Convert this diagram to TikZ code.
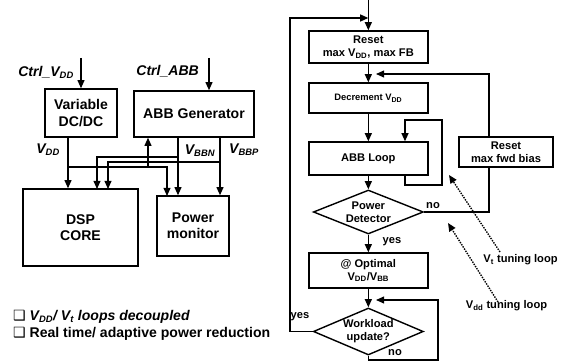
\documentclass[tikz,border=0pt]{standalone}
\usepackage{fontspec}
\setmainfont{Liberation Sans}
\newfontfamily\symfont{DejaVu Sans}
\usetikzlibrary{arrows.meta,shapes.geometric}

\tikzset{
  blk/.style={draw,line width=1.3pt,align=center,inner sep=0pt,font=\fontsize{12}{14}\selectfont\bfseries},
  flowbox/.style={draw,line width=1.2pt,align=center,inner sep=0pt,minimum width=3.57cm,font=\fontsize{9.5}{11}\selectfont\bfseries},
  dia/.style={diamond,draw,line width=1.2pt,align=center,aspect=2.5,inner sep=0pt,minimum width=3.3cm,font=\fontsize{9.5}{11}\selectfont\bfseries},
  wire/.style={line width=1.1pt},
  arr/.style={wire,-{Triangle[length=7pt,width=6pt]}},
  dotarr/.style={line width=1.2pt,densely dotted,-{Triangle[length=7pt,width=6pt]}},
  lbl/.style={font=\fontsize{9.5}{11}\selectfont\bfseries},
  sigtxt/.style={font=\fontsize{12}{14}\selectfont\bfseries\itshape},
}

\begin{document}
\begin{tikzpicture}
  \useasboundingbox (0,0) rectangle (16.83,10.83);

  % Supply and bias generators
  \node[blk,minimum width=2.16cm,minimum height=1.44cm] (dcdc) at (2.43,7.44) {Variable\\DC/DC};
  \node[blk,minimum width=3.6cm,minimum height=1.38cm] (abbgen) at (5.82,7.41) {ABB Generator};
  \node[blk,minimum width=3.45cm,minimum height=2.31cm] (dsp) at (2.415,4.005) {DSP\\CORE};
  \node[blk,minimum width=2.16cm,minimum height=1.8cm] (pm) at (5.79,4.05) {Power\\monitor};

  % Control inputs
  \coordinate (vddin) at (2.43,9.09);
  \coordinate (abbin) at (6.27,9.09);
  \node[sigtxt,anchor=east] (ctrlvdd) at (2.34,8.67) {Ctrl\_V\textsubscript{DD}};
  \node[sigtxt,anchor=east] (ctrlabb) at (6.09,8.70) {Ctrl\_ABB};
  \draw[arr] (vddin) -- (dcdc.north);
  \draw[arr] (abbin) -- (abbin |- abbgen.north);

  % Rails
  \coordinate (vddtap) at (2.04,5.82);
  \coordinate (abbfb) at (4.44,5.82);
  \coordinate (pmvdd) at (5.01,4.95);
  \coordinate (vbbntap) at (5.34,6.12);
  \coordinate (vbbptap) at (6.60,5.97);
  \coordinate (dspn) at (2.91,5.16);
  \coordinate (dspp) at (3.24,5.16);
  \draw[arr] (dcdc.south -| vddtap) -- (dsp.north -| vddtap);
  \draw[arr] (vddtap) -| (pmvdd);
  \draw[arr] (abbfb) -- (abbfb |- abbgen.south);
  \draw[arr] (abbgen.south -| vbbntap) -- (pm.north -| vbbntap);
  \draw[arr] (vbbntap) -| (dspn);
  \draw[arr] (abbgen.south -| vbbptap) -- (pm.north -| vbbptap);
  \draw[arr] (vbbptap) -| (dspp);

  \node[sigtxt,anchor=east] (vddlab) at (1.92,6.33) {V\textsubscript{DD}};
  \node[sigtxt] (vbbnlab) at (6.00,6.30) {V\textsubscript{BBN}};
  \node[sigtxt] (vbbplab) at (7.32,6.33) {V\textsubscript{BBP}};

  % Notes
  \node[anchor=west,font=\fontsize{12}{14}\selectfont] (note1) at (0.27,1.32) {{\symfont ❑} \bfseries\itshape V\textsubscript{DD}/ V\textsubscript{t} loops decoupled};
  \node[anchor=west,font=\fontsize{12}{14}\selectfont] (note2) at (0.27,0.81) {{\symfont ❑} \bfseries Real time/ adaptive power reduction};

  % Flow chart
  \coordinate (top) at (11.05,10.83);
  \node[flowbox,minimum height=0.96cm] (reset) at (11.05,9.42) {Reset\\max V\textsubscript{DD}, max FB};
  \node[flowbox,minimum height=0.9cm,font=\fontsize{8}{10}\selectfont\bfseries] (dec) at (11.05,7.89) {Decrement V\textsubscript{DD}};
  \node[flowbox,minimum height=0.99cm] (abbloop) at (11.05,6.075) {ABB Loop};
  \node[dia,minimum height=1.32cm] (pd) at (11.05,4.47) {Power\\Detector};
  \node[flowbox,minimum height=1.05cm] (opt) at (11.05,2.715) {@ Optimal\\V\textsubscript{DD}/V\textsubscript{BB}};
  \node[dia,minimum height=1.41cm] (wl) at (11.05,0.885) {Workload\\update?};
  \node[flowbox,minimum width=2.82cm,minimum height=0.9cm] (resetfb) at (15.18,6.27) {Reset\\max fwd bias};

  \coordinate (loopx) at (8.70,10.29);
  \coordinate (fbx) at (14.67,0);
  \coordinate (decin) at (11.28,8.61);
  \coordinate (selfl) at (12.15,5.28);
  \coordinate (selfr) at (13.26,7.23);
  \coordinate (retb) at (13.14,0.03);
  \coordinate (wlin) at (11.28,1.83);

  \draw[arr] (top) -- (reset.north);
  \draw[arr] (wl.west) -| (loopx) -- (loopx -| reset.north);
  \draw[arr] (reset) -- (dec);
  \draw[arr] (resetfb.north -| fbx) |- (decin);
  \draw[arr] (dec) -- (abbloop);
  \draw[arr] (abbloop.south -| selfl) -- (selfl) -| (selfr) -| (abbloop.north -| selfl);
  \draw[arr] (abbloop) -- (pd);
  \draw[wire] (pd.east) -| (resetfb.south -| fbx);
  \draw[arr] (pd) -- (opt);
  \draw[arr] (opt) -- (wl);
  \draw[arr] (wl.south) |- (retb) |- (wlin);

  \node[lbl] (no1) at (12.99,4.65) {no};
  \node[lbl] (yes1) at (11.76,3.57) {yes};
  \node[lbl] (no2) at (11.85,0.24) {no};
  \node[lbl] (yes2) at (9.00,1.32) {yes};

  % Tuning loops
  \node[lbl] (vtlab) at (15.615,3.03) {V\textsubscript{t} tuning loop};
  \node[lbl] (vddloop) at (15.195,1.65) {V\textsubscript{dd} tuning loop};
  \coordinate (vttail) at (15.00,3.27);
  \coordinate (vttip) at (13.47,5.58);
  \coordinate (vddtail) at (14.94,1.77);
  \coordinate (vddtip) at (13.44,4.14);
  \draw[dotarr] (vttail) -- (vttip);
  \draw[dotarr] (vddtail) -- (vddtip);
\end{tikzpicture}
\end{document}
